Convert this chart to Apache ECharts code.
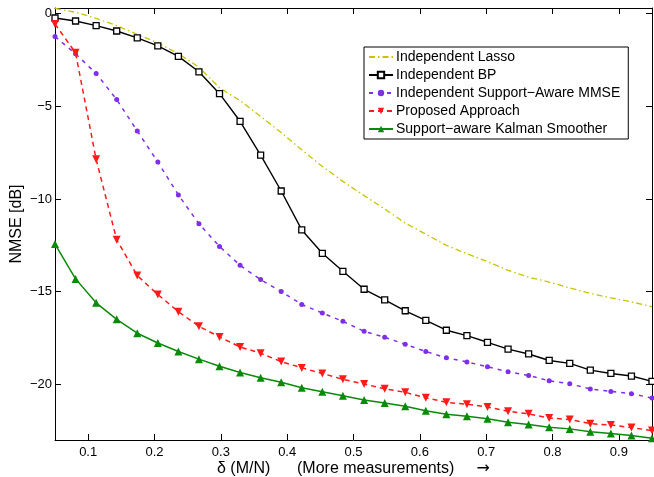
<!DOCTYPE html>
<html>
<head>
<meta charset="utf-8">
<script src="https://cdn.jsdelivr.net/npm/echarts@6/dist/echarts.min.js"></script>
<style>
  html, body { margin: 0; padding: 0; background: #fff; }
  #chart { width: 654px; height: 477px; }
</style>
</head>
<body>
<div id="chart"></div>
<script>
// delta = M/N sample points
const delta = [0.05, 0.081, 0.112, 0.143, 0.174, 0.205, 0.236, 0.267, 0.298, 0.329,
  0.360, 0.391, 0.422, 0.453, 0.484, 0.516, 0.547, 0.578, 0.609, 0.640,
  0.671, 0.702, 0.733, 0.764, 0.795, 0.826, 0.857, 0.888, 0.919, 0.95];

const lasso = [0.28, 0.07, -0.26, -0.65, -1.12, -1.58, -2.17, -2.89, -4.0, -4.7,
  -5.55, -6.42, -7.35, -8.25, -9.05, -9.82, -10.54, -11.3, -11.9, -12.5,
  -12.95, -13.38, -13.85, -14.22, -14.48, -14.8, -15.1, -15.33, -15.55, -15.81];

const bp = [-0.24, -0.40, -0.65, -0.94, -1.31, -1.74, -2.31, -3.14, -4.32, -5.81,
  -7.63, -9.57, -11.67, -12.93, -13.90, -14.87, -15.44, -16.03, -16.55, -17.08,
  -17.37, -17.73, -18.10, -18.36, -18.71, -18.87, -19.23, -19.41, -19.55, -19.84];

const mmse = [-1.24, -2.17, -3.23, -4.64, -6.33, -8.01, -9.78, -11.34, -12.56, -13.58,
  -14.35, -14.99, -15.69, -16.15, -16.60, -17.14, -17.46, -17.84, -18.23, -18.57,
  -18.79, -19.05, -19.32, -19.52, -19.81, -19.97, -20.25, -20.38, -20.50, -20.74];

const proposed = [-0.56, -2.12, -7.86, -12.20, -14.13, -15.15, -16.08, -16.87, -17.44, -17.98,
  -18.32, -18.77, -19.11, -19.41, -19.73, -19.98, -20.24, -20.43, -20.72, -20.97,
  -21.07, -21.22, -21.45, -21.59, -21.81, -21.90, -22.12, -22.19, -22.33, -22.49];

const kalman = [-12.43, -14.31, -15.60, -16.49, -17.24, -17.77, -18.23, -18.64, -19.02, -19.36,
  -19.64, -19.89, -20.18, -20.40, -20.61, -20.84, -21.00, -21.18, -21.42, -21.61,
  -21.72, -21.86, -22.04, -22.17, -22.31, -22.40, -22.56, -22.65, -22.76, -22.90];

const xTicks = [0.1, 0.2, 0.3, 0.4, 0.5, 0.6, 0.7, 0.8, 0.9];
const yTicks = [-20, -15, -10, -5, 0];

const pairs = (ys) => ys.map((v, i) => [delta[i], v]);
const FONT = 'Liberation Sans';

const chart = echarts.init(document.getElementById('chart'));

const baseX = {
  type: 'value',
  min: 0.05,
  max: 0.95,
  axisLine: { onZero: false, lineStyle: { color: '#000', width: 1 } },
  axisTick: { inside: true, length: 6, customValues: xTicks, lineStyle: { color: '#000' } },
  splitLine: { show: false }
};
const baseY = {
  type: 'value',
  min: -23,
  max: 0.3,
  axisLine: { onZero: false, lineStyle: { color: '#000', width: 1 } },
  axisTick: { inside: true, length: 6, customValues: yTicks, lineStyle: { color: '#000' } },
  splitLine: { show: false }
};

chart.setOption({
  animation: false,
  grid: { left: 55, right: 2, top: 8, bottom: 37, containLabel: false, outerBoundsMode: 'none' },
  legend: {
    orient: 'vertical',
    left: 364,
    top: 47,
    padding: [3, 8, 3, 4],
    itemWidth: 24,
    itemHeight: 8,
    itemGap: 4,
    backgroundColor: '#fff',
    borderColor: '#000',
    borderWidth: 1,
    borderRadius: 0,
    textStyle: { fontFamily: FONT, fontSize: 14, lineHeight: 14, color: '#000', padding: [0, 0, 0, -2] },
    data: [
      { name: 'Independent Lasso', itemStyle: { opacity: 0 } },
      'Independent BP', 'Independent Support\u2212Aware MMSE',
      'Proposed Approach', 'Support\u2212aware Kalman Smoother'
    ]
  },
  xAxis: [
    Object.assign({}, baseX, {
      position: 'bottom',
      name: '\u03b4 (M/N)      (More measurements)     {a|\u2192}',
      nameLocation: 'middle',
      nameGap: 21,
      nameMoveOverlap: false,
      nameTextStyle: {
        fontFamily: FONT, fontSize: 16, color: '#000',
        rich: { a: { fontFamily: 'DejaVu Sans', fontSize: 16, color: '#000' } }
      },
      axisLabel: { customValues: xTicks, margin: 6, fontFamily: FONT, fontSize: 13, color: '#000' }
    }),
    Object.assign({}, baseX, { position: 'top', axisLabel: { show: false } })
  ],
  yAxis: [
    Object.assign({}, baseY, {
      position: 'left',
      name: 'NMSE [dB]',
      nameLocation: 'middle',
      nameGap: 30,
      nameMoveOverlap: false,
      nameTextStyle: { fontFamily: FONT, fontSize: 16, color: '#000' },
      axisLabel: {
        customValues: yTicks, margin: 3, fontFamily: FONT, fontSize: 13, color: '#000',
        formatter: (v) => String(v).replace('-', '\u2212')
      }
    }),
    Object.assign({}, baseY, { position: 'right', axisLabel: { show: false } })
  ],
  series: [
    {
      name: 'Independent Lasso',
      type: 'line',
      data: pairs(lasso),
      symbol: 'none',
      lineStyle: { color: '#c8c400', width: 1.3, type: [6, 3, 1.5, 3] },
      itemStyle: { color: '#c8c400' }
    },
    {
      name: 'Independent BP',
      type: 'line',
      data: pairs(bp),
      symbol: 'rect',
      symbolSize: 6,
      lineStyle: { color: '#000', width: 1.4 },
      itemStyle: { color: '#fff', borderColor: '#000', borderWidth: 1.3 }
    },
    {
      name: 'Independent Support\u2212Aware MMSE',
      type: 'line',
      data: pairs(mmse),
      symbol: 'circle',
      symbolSize: 5,
      lineStyle: { color: '#7f2fe8', width: 1.5, type: [4, 5] },
      itemStyle: { color: '#7f2fe8' }
    },
    {
      name: 'Proposed Approach',
      type: 'line',
      data: pairs(proposed),
      symbol: 'triangle',
      symbolRotate: 180,
      symbolSize: 8,
      lineStyle: { color: '#ff1a1a', width: 1.5, type: [5, 4] },
      itemStyle: { color: '#ff1a1a' }
    },
    {
      name: 'Support\u2212aware Kalman Smoother',
      type: 'line',
      data: pairs(kalman),
      symbol: 'triangle',
      symbolSize: 8,
      lineStyle: { color: '#0a8a0a', width: 1.5 },
      itemStyle: { color: '#0a8a0a' }
    }
  ]
});
</script>
</body>
</html>
